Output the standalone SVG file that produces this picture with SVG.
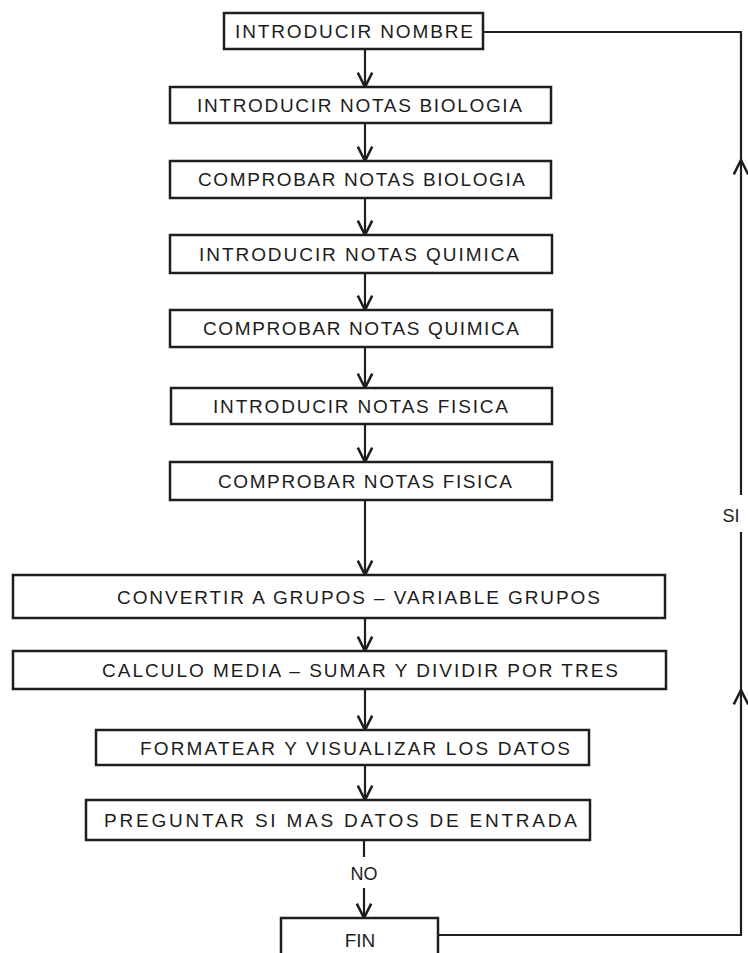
<svg xmlns="http://www.w3.org/2000/svg" width="748" height="953" viewBox="0 0 748 953">
<style>
  .box rect { fill: #ffffff; stroke: #1e1e1e; stroke-width: 2.5; }
  .box text, .lbl { font-family: "Liberation Sans", Arial, sans-serif; font-size: 19px; fill: #1c1c1c; }
  .lbl { font-size: 18px; }
  .conn path, .conn line { fill: none; stroke: #1e1e1e; stroke-width: 2.2; }
</style>
<defs>
  <marker id="arr" markerUnits="userSpaceOnUse" markerWidth="20" markerHeight="20" viewBox="-15 -9 17 18" refX="0" refY="0" orient="auto" overflow="visible">
    <path d="M-13,-6.5 L0,0 L-13,6.5" fill="none" stroke="#1e1e1e" stroke-width="2.3"/>
  </marker>
</defs>
<rect width="748" height="953" fill="#ffffff"/>

<g id="connectors" class="conn">
  <line x1="365" y1="49" x2="365" y2="87" marker-end="url(#arr)"/>
  <line x1="365" y1="123" x2="365" y2="161" marker-end="url(#arr)"/>
  <line x1="365" y1="198" x2="365" y2="235" marker-end="url(#arr)"/>
  <line x1="365" y1="273" x2="365" y2="310" marker-end="url(#arr)"/>
  <line x1="365" y1="347" x2="365" y2="388" marker-end="url(#arr)"/>
  <line x1="365" y1="424" x2="365" y2="462" marker-end="url(#arr)"/>
  <line x1="365" y1="500" x2="365" y2="575" marker-end="url(#arr)"/>
  <line x1="365" y1="618" x2="365" y2="651" marker-end="url(#arr)"/>
  <line x1="365" y1="689" x2="365" y2="730" marker-end="url(#arr)"/>
  <line x1="365" y1="765" x2="365" y2="800" marker-end="url(#arr)"/>
  <line x1="364" y1="840" x2="364" y2="857"/>
  <line x1="364" y1="888" x2="364" y2="918" marker-end="url(#arr)"/>
  <path d="M438,935 H741 V690" marker-end="url(#arr)"/>
  <line x1="741" y1="690" x2="741" y2="532"/>
  <line x1="741" y1="495" x2="741" y2="160" marker-end="url(#arr)"/>
  <path d="M741,160 V32 H483"/>
  <text class="lbl" x="364" y="880" text-anchor="middle">NO</text>
  <text class="lbl" x="731" y="522" text-anchor="middle">SI</text>
</g>

<g id="n1" class="box"><rect x="224" y="13" width="259" height="36"/><text x="235" y="38" textLength="238" lengthAdjust="spacing">INTRODUCIR NOMBRE</text></g>
<g id="n2" class="box"><rect x="170" y="87" width="381" height="36"/><text x="197" y="112" textLength="325" lengthAdjust="spacing">INTRODUCIR NOTAS BIOLOGIA</text></g>
<g id="n3" class="box"><rect x="170" y="161" width="381" height="37"/><text x="198" y="186" textLength="327" lengthAdjust="spacing">COMPROBAR NOTAS BIOLOGIA</text></g>
<g id="n4" class="box"><rect x="170" y="235" width="382" height="38"/><text x="199" y="261" textLength="320" lengthAdjust="spacing">INTRODUCIR NOTAS QUIMICA</text></g>
<g id="n5" class="box"><rect x="170" y="310" width="382" height="37"/><text x="203" y="335" textLength="316" lengthAdjust="spacing">COMPROBAR NOTAS QUIMICA</text></g>
<g id="n6" class="box"><rect x="171" y="388" width="381" height="36"/><text x="213" y="413" textLength="295" lengthAdjust="spacing">INTRODUCIR NOTAS FISICA</text></g>
<g id="n7" class="box"><rect x="170" y="462" width="382" height="38"/><text x="218" y="488" textLength="294" lengthAdjust="spacing">COMPROBAR NOTAS FISICA</text></g>
<g id="n8" class="box"><rect x="13" y="575" width="652" height="43"/><text x="117" y="604" textLength="483" lengthAdjust="spacing">CONVERTIR A GRUPOS – VARIABLE GRUPOS</text></g>
<g id="n9" class="box"><rect x="13" y="651" width="653" height="38"/><text x="102" y="677" textLength="516" lengthAdjust="spacing">CALCULO MEDIA – SUMAR Y DIVIDIR POR TRES</text></g>
<g id="n10" class="box"><rect x="96" y="730" width="493" height="35"/><text x="140" y="755" textLength="430" lengthAdjust="spacing">FORMATEAR Y VISUALIZAR LOS DATOS</text></g>
<g id="n11" class="box"><rect x="86" y="800" width="504" height="40"/><text x="104" y="827" textLength="473" lengthAdjust="spacing">PREGUNTAR SI MAS DATOS DE ENTRADA</text></g>
<g id="n12" class="box"><rect x="281" y="918" width="157" height="50"/><text x="360" y="947" text-anchor="middle">FIN</text></g>
</svg>
